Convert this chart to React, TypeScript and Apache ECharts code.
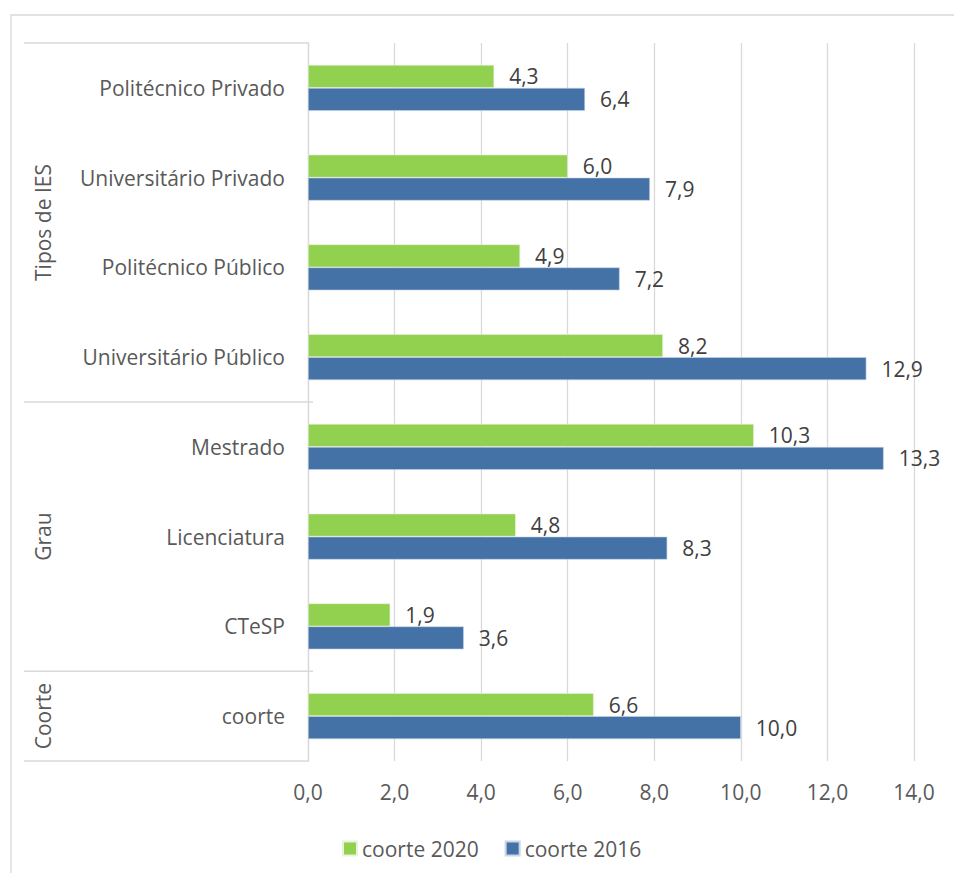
import React, { useEffect, useRef } from "react";
import * as echarts from "echarts";

const categories = [
  "Politécnico Privado",
  "Universitário Privado",
  "Politécnico Público",
  "Universitário Público",
  "Mestrado",
  "Licenciatura",
  "CTeSP",
  "coorte",
];
const groups = [
  { name: "Tipos de IES", count: 4 },
  { name: "Grau", count: 3 },
  { name: "Coorte", count: 1 },
];
const coorte2020 = [4.3, 6.0, 4.9, 8.2, 10.3, 4.8, 1.9, 6.6];
const coorte2016 = [6.4, 7.9, 7.2, 12.9, 13.3, 8.3, 3.6, 10.0];
const xTicks = { min: 0, max: 14, interval: 2 };

const FONT = "Open Sans";
const FS = 21;
const fmt = (v: number) => v.toFixed(1).replace(".", ",");

export default function App() {
  const ref = useRef<HTMLDivElement>(null);
  useEffect(() => {
    if (!ref.current) return;
    const chart = echarts.init(ref.current, undefined, { renderer: "svg" });
    const labelStyle = {
      show: true,
      position: "right" as const,
      distance: 15,
      color: "#404040",
      fontSize: FS,
      fontFamily: FONT,
      formatter: (p: any) => fmt(p.value),
    };
    chart.setOption({
      animation: false,
      backgroundColor: "#fff",
      textStyle: { fontFamily: FONT },
      grid: { left: 308, right: 40, top: 43, bottom: 112, containLabel: false },
      legend: {
        left: 342,
        top: 838,
        padding: 0,
        itemWidth: 14,
        itemHeight: 14,
        itemGap: 26,
        icon: "rect",
        data: ["coorte 2020", "coorte 2016"],
        textStyle: { color: "#595959", fontSize: FS, fontFamily: FONT },
      },
      xAxis: {
        type: "value",
        min: xTicks.min,
        max: xTicks.max,
        interval: xTicks.interval,
        axisLine: { show: false },
        axisTick: { show: false },
        splitLine: { lineStyle: { color: "#D9D9D9", width: 1.3 } },
        axisLabel: {
          color: "#595959",
          fontSize: FS,
          fontFamily: FONT,
          margin: 20,
          formatter: (v: number) => fmt(v),
        },
      },
      yAxis: {
        type: "category",
        inverse: true,
        data: categories,
        axisLine: { show: true, lineStyle: { color: "#D9D9D9", width: 1.3 } },
        axisTick: { show: false },
        axisLabel: {
          color: "#595959",
          fontSize: FS,
          fontFamily: FONT,
          margin: 23,
        },
      },
      series: [
        {
          name: "coorte 2020",
          type: "bar",
          data: coorte2020,
          barWidth: 23,
          barGap: "0%",
          itemStyle: { color: "#92D050", borderColor: "#E8F4DA", borderWidth: 0.6 },
          label: labelStyle,
        },
        {
          name: "coorte 2016",
          type: "bar",
          data: coorte2016,
          barWidth: 23,
          barGap: "0%",
          itemStyle: { color: "#4472A6", borderColor: "#C9D6E8", borderWidth: 0.6 },
          label: labelStyle,
        },
      ],
    });

    const first = chart.convertToPixel({ yAxisIndex: 0 }, categories[0]) as number;
    const last = chart.convertToPixel(
      { yAxisIndex: 0 },
      categories[categories.length - 1]
    ) as number;
    const band = (last - first) / (categories.length - 1);
    const top = first - band / 2;
    const axisX = chart.convertToPixel({ xAxisIndex: 0 }, 0) as number;
    const leftX = 24;
    const graphic: any[] = [
      {
        type: "rect",
        shape: { x: 11, y: 15, width: 1000, height: 1000 },
        style: { fill: "none", stroke: "#D9D9D9", lineWidth: 1.3 },
        silent: true,
        z: -1,
      },
    ];
    let idx = 0;
    const boundaries = [top];
    groups.forEach((g) => {
      const y0 = top + idx * band;
      const y1 = top + (idx + g.count) * band;
      boundaries.push(y1);
      graphic.push({
        type: "text",
        x: 43,
        y: (y0 + y1) / 2,
        rotation: Math.PI / 2,
        style: {
          text: g.name,
          fill: "#595959",
          fontSize: FS,
          fontFamily: FONT,
          align: "center",
          verticalAlign: "middle",
        },
      });
      idx += g.count;
    });
    boundaries.forEach((y, i) => {
      const extend = i > 0 && i < boundaries.length - 1 ? 5 : 0;
      graphic.push({
        type: "line",
        shape: { x1: leftX, y1: y, x2: axisX + extend, y2: y },
        style: { stroke: "#D9D9D9", lineWidth: 1.3 },
        silent: true,
      });
    });
    chart.setOption({ graphic });

    return () => chart.dispose();
  }, []);
  return (
    <div
      ref={ref}
      style={{ position: "fixed", left: 0, top: 0, width: 954, height: 873 }}
    />
  );
}
